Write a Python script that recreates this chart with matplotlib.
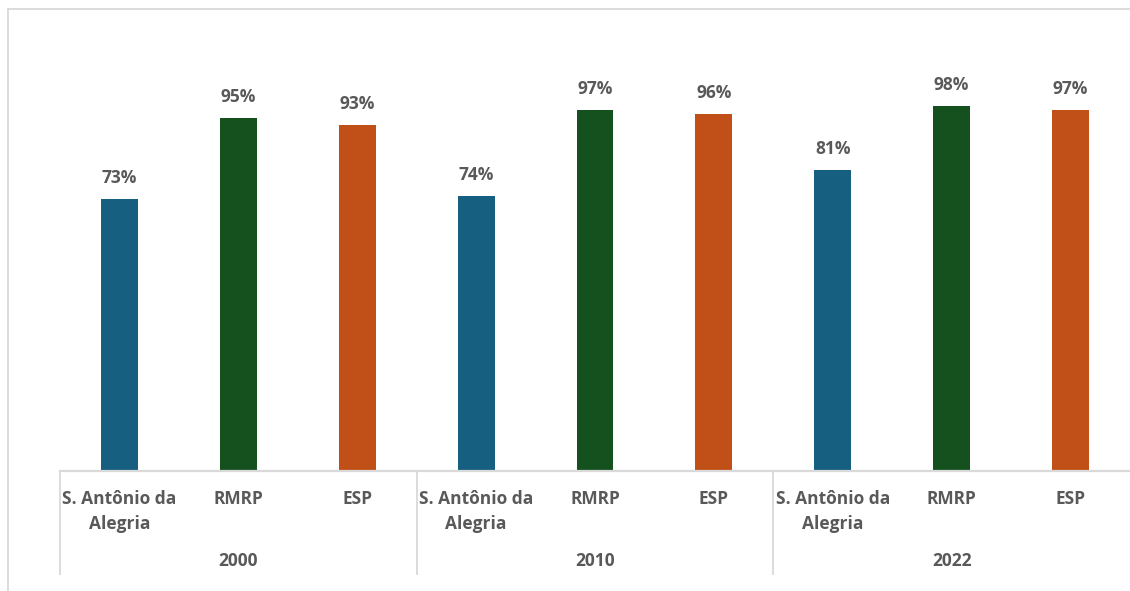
import matplotlib.pyplot as plt
import matplotlib.transforms as mtransforms
from matplotlib.lines import Line2D

# data
years = ["2000", "2010", "2022"]
places = ["S. Antônio da\nAlegria", "RMRP", "ESP"]
values = {
    "2000": [73, 95, 93],
    "2010": [74, 97, 96],
    "2022": [81, 98, 97],
}
colors = ["#165F80", "#15501F", "#C05017"]

plt.rcParams['font.family'] = ['Open Sans', 'DejaVu Sans']
grey = "#595959"
line_c = "#D9D9D9"
fs = 12.5

fig = plt.figure(figsize=(11.3, 5.91), dpi=100)
ax = fig.add_axes([60 / 1130, 120 / 591, 1070 / 1130, (471 - 24.6) / 591])

x = 0
xs, hs, cs, labels = [], [], [], []
for y in years:
    for i, v in enumerate(values[y]):
        xs.append(x)
        hs.append(v / 100)
        cs.append(colors[i])
        labels.append(places[i])
        x += 1

bars = ax.bar(xs, hs, width=0.31, color=cs)
for b, h in zip(bars, hs):
    ax.annotate(f"{round(h * 100)}%", (b.get_x() + b.get_width() / 2, h),
                xytext=(0, 12), textcoords="offset pixels",
                ha="center", va="bottom", fontsize=fs, fontweight="bold", color=grey)

ax.set_xlim(-0.5, len(xs) - 0.5)
ax.set_ylim(0, 1.2)
ax.set_yticks([])
ax.set_xticks(xs)
ax.set_xticklabels(labels, fontsize=fs, fontweight="bold", color=grey, linespacing=1.45)
ax.tick_params(axis="x", length=0, pad=14)
for s in ["top", "right", "left"]:
    ax.spines[s].set_visible(False)
ax.spines["bottom"].set_color(line_c)
ax.spines["bottom"].set_linewidth(1.6)

# group separators and year labels
trans = mtransforms.blended_transform_factory(ax.transData, fig.transFigure)
for g, y in enumerate(years):
    x0 = g * 3 - 0.5
    fig.add_artist(Line2D([x0, x0], [120 / 591, 17 / 591], transform=trans,
                          color=line_c, lw=1.3))
    fig.text(g * 3 + 1, 30 / 591, y, transform=trans, ha="center", va="center",
             fontsize=fs, fontweight="bold", color=grey)

# outer frame
fig.add_artist(Line2D([8 / 1130, 8 / 1130], [0, 582 / 591], transform=fig.transFigure,
                      color=line_c, lw=1.3))
fig.add_artist(Line2D([8 / 1130, 1], [582 / 591, 582 / 591], transform=fig.transFigure,
                      color=line_c, lw=1.3))

fig.savefig("out.png", dpi=100)
